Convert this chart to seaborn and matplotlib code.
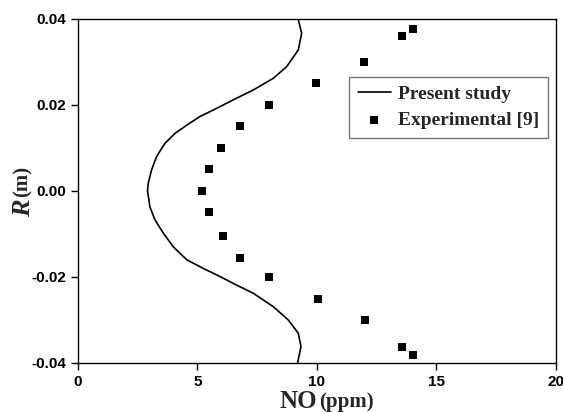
import numpy as np
import pandas as pd
import seaborn as sns
import matplotlib.pyplot as plt

# Present study curve (NO in ppm vs radius R in m)
curve_R = [0.0400, 0.0398, 0.0367, 0.0328, 0.0289, 0.0262, 0.0235, 0.0212, 0.0192,
           0.0173, 0.0153, 0.0134, 0.0111, 0.0080, 0.0049, 0.0018, 0.0000,
           -0.0037, -0.0067, -0.0098, -0.0130, -0.0160, -0.0180, -0.0199, -0.0219,
           -0.0238, -0.0269, -0.0300, -0.0331, -0.0362, -0.0400]
curve_NO = [9.20, 9.22, 9.36, 9.22, 8.73, 8.17, 7.34, 6.50, 5.80,
            5.10, 4.55, 4.06, 3.64, 3.29, 3.08, 2.94, 2.91,
            3.01, 3.22, 3.57, 3.99, 4.55, 5.24, 5.94, 6.64,
            7.34, 8.17, 8.80, 9.22, 9.33, 9.19]

# Experimental [9]
exp_R = [0.0376, 0.0360, 0.0300, 0.0250, 0.0200, 0.0150, 0.0100, 0.0050, 0.0000,
         -0.0050, -0.0104, -0.0155, -0.0200, -0.0252, -0.0300, -0.0362, -0.0381]
exp_NO = [14.0, 13.55, 11.95, 9.95, 8.0, 6.8, 6.0, 5.5, 5.2,
          5.5, 6.05, 6.8, 8.0, 10.05, 12.0, 13.55, 14.0]

curve_df = pd.DataFrame({'NO': curve_NO, 'R': curve_R})
exp_df = pd.DataFrame({'NO': exp_NO, 'R': exp_R})

sns.set_style('ticks')
plt.rcParams['font.family'] = ['Liberation Sans', 'DejaVu Sans']

fig = plt.figure(figsize=(5.63, 4.12), dpi=100)
ax = fig.add_axes([0.1385, 0.119, 0.849, 0.835])

sns.lineplot(data=curve_df, x='NO', y='R', sort=False, estimator=None,
             color='black', linewidth=1.2, label='Present study', ax=ax)
sns.scatterplot(data=exp_df, x='NO', y='R', marker='s', color='black', s=40,
                edgecolor='black', linewidth=0, label='Experimental [9]', ax=ax)

ax.set_xlim(0, 20)
ax.set_ylim(-0.04, 0.04)
ax.set_xticks([0, 5, 10, 15, 20])
ax.set_yticks([-0.04, -0.02, 0.0, 0.02, 0.04])
ax.set_yticklabels(['-0.04', '-0.02', '0.00', '0.02', '0.04'])
ax.tick_params(axis='both', direction='out', length=5, width=1, labelsize=11,
               colors='black')
for lab in ax.get_xticklabels() + ax.get_yticklabels():
    lab.set_fontweight('bold')
for sp in ax.spines.values():
    sp.set_visible(True)
    sp.set_linewidth(1.0)
    sp.set_color('black')

serif = ['Liberation Serif', 'DejaVu Serif']
ax.set_xlabel('NO', fontsize=18, fontweight='bold', family=serif, labelpad=1)
ax.xaxis.label.set_position((0.46, 0))
ax.annotate('(ppm)', xy=(1, 0), xycoords=ax.xaxis.label, xytext=(2, 1),
            textcoords='offset points', ha='left', va='bottom',
            fontsize=15, fontweight='bold', family=serif)

ax.set_ylabel('R', fontsize=19, fontweight='bold', fontstyle='italic',
              family=serif, labelpad=-3)
ax.yaxis.label.set_position((0, 0.45))
ax.annotate('(m)', xy=(0, 1), xycoords=ax.yaxis.label, xytext=(0, 2),
            textcoords='offset points', ha='left', va='bottom', rotation=90,
            fontsize=15, fontweight='bold', family=serif)

leg = ax.legend(loc='upper left', bbox_to_anchor=(0.567, 0.832),
                frameon=True, fancybox=False, edgecolor='#555555',
                prop={'family': serif, 'weight': 'bold', 'size': 14},
                handlelength=1.7, handletextpad=0.35, borderpad=0.45,
                labelspacing=0.45, borderaxespad=0)
leg.get_frame().set_linewidth(1.0)

fig.savefig('out.png', dpi=100)
